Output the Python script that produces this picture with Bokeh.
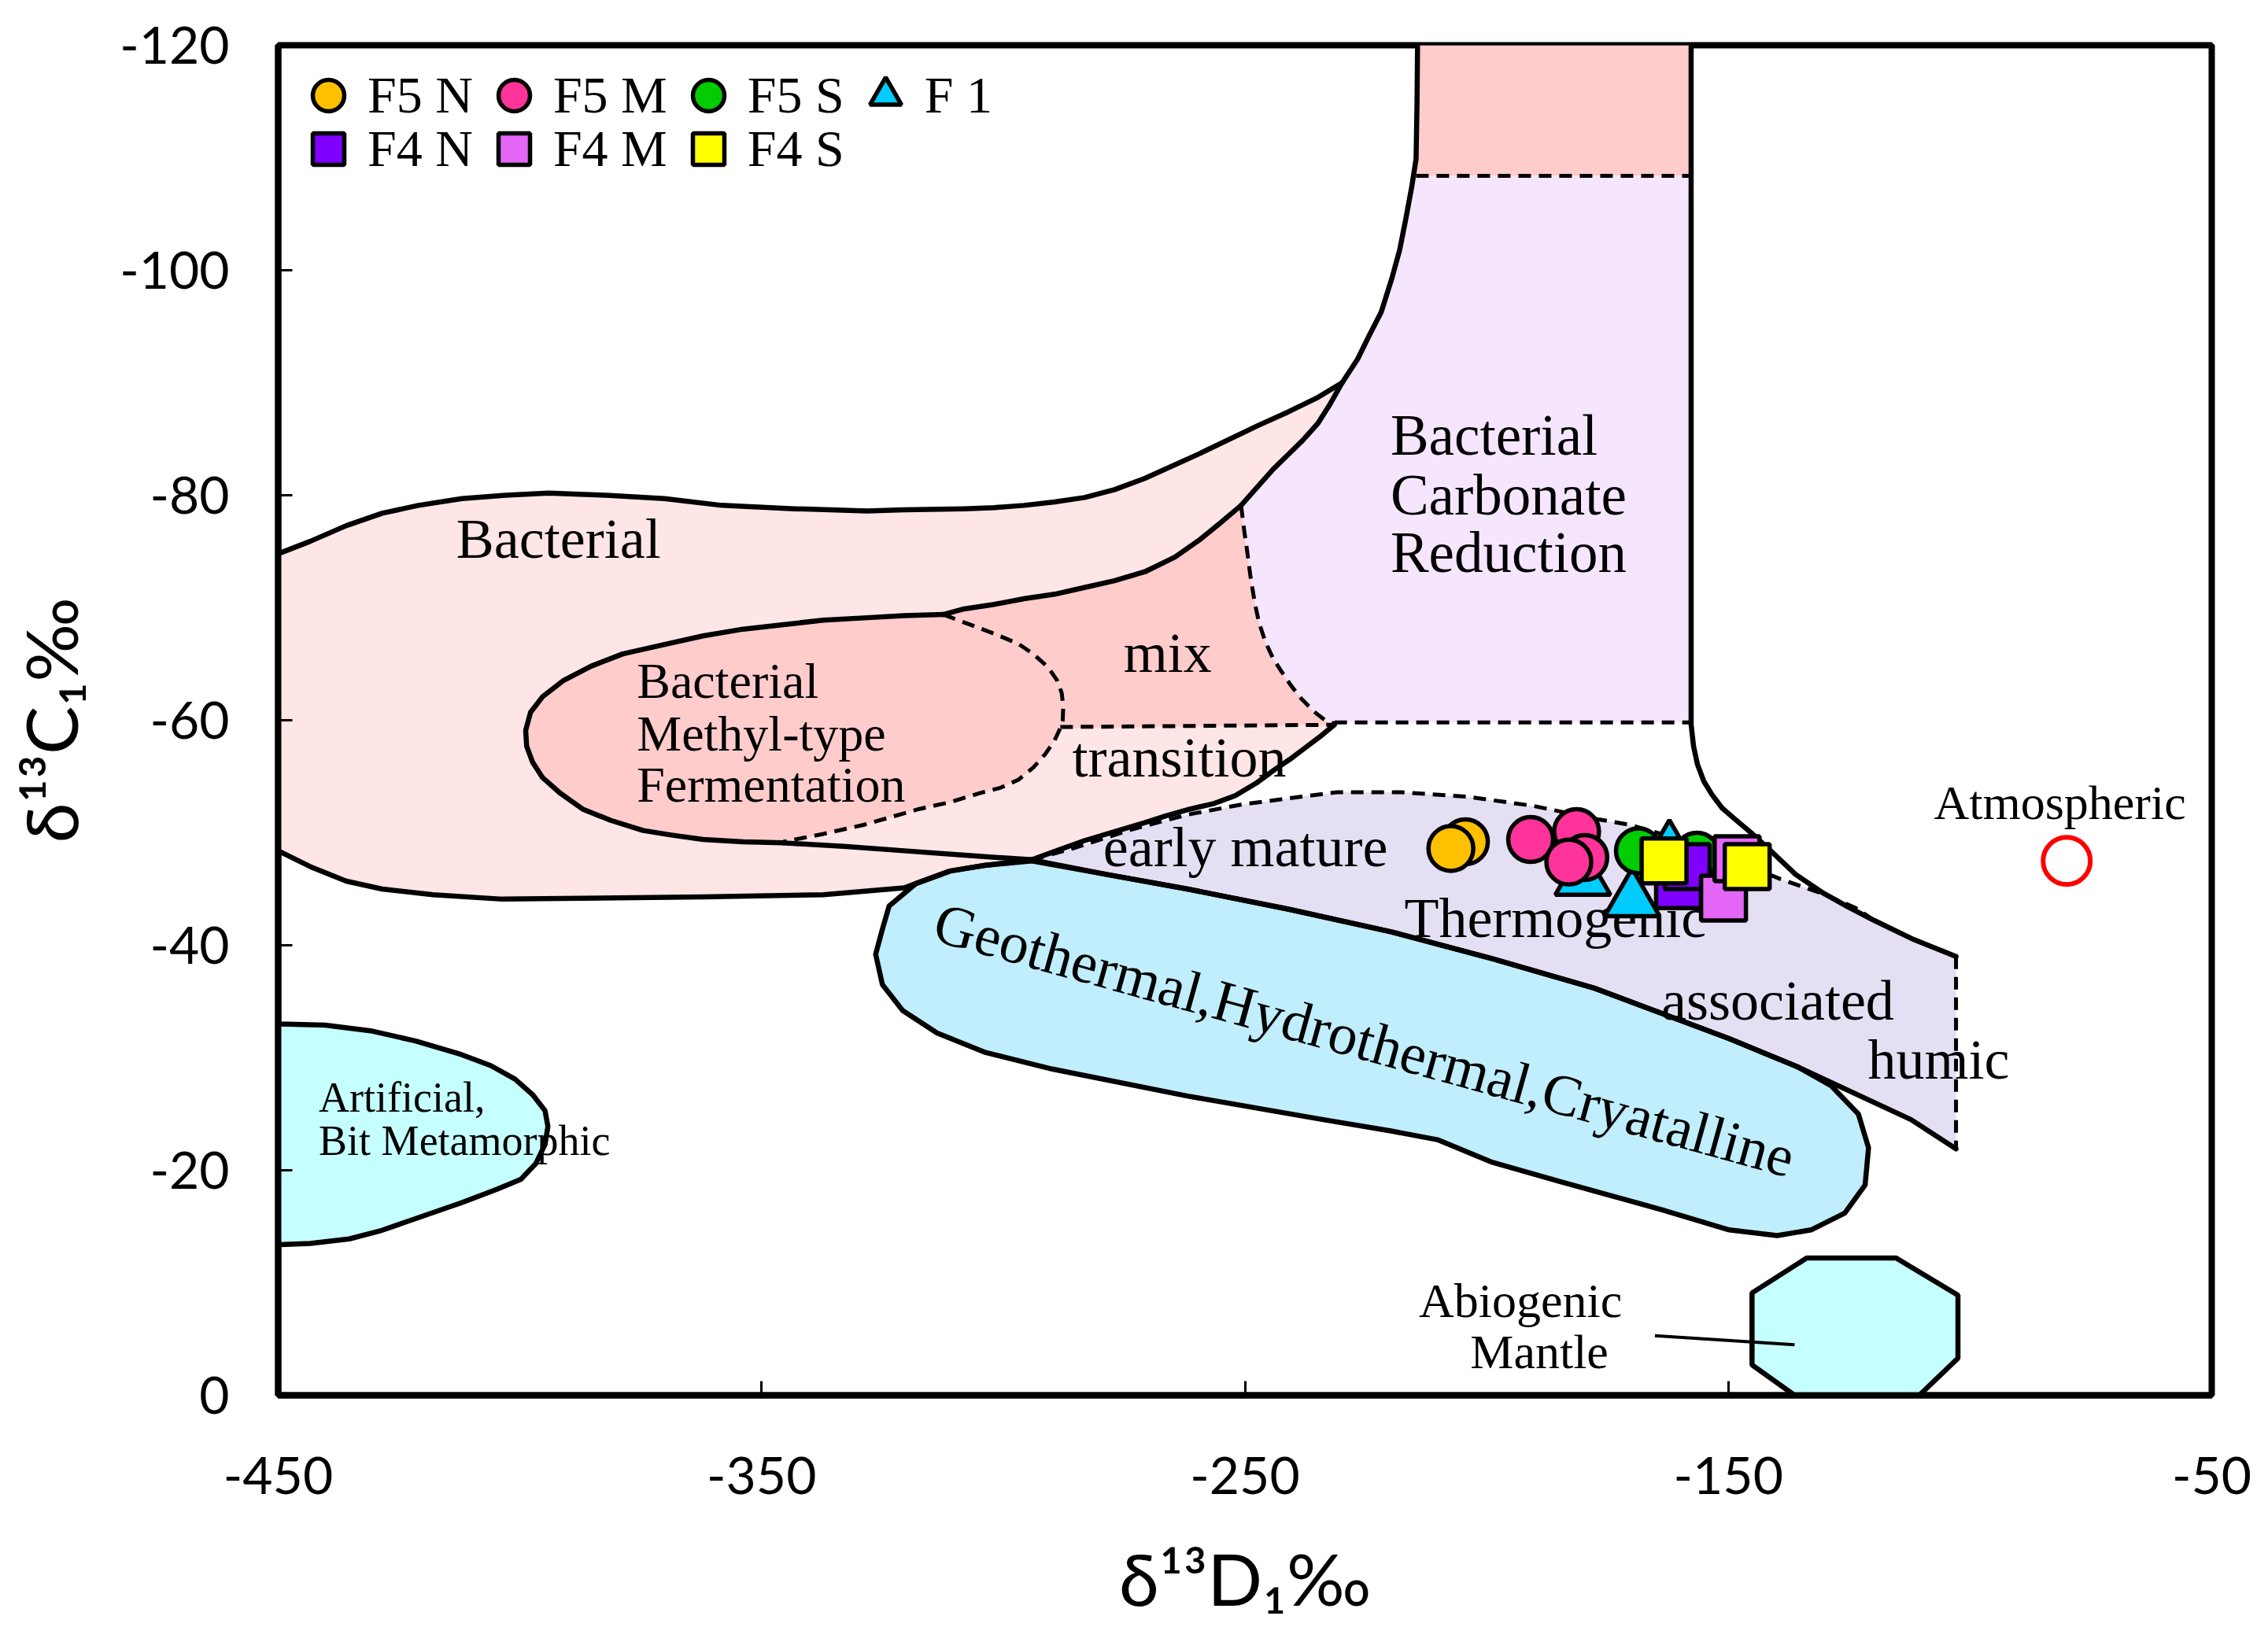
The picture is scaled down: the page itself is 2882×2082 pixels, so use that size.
from bokeh.plotting import figure
from bokeh.models import Range1d, Legend, LegendItem, FixedTicker
from bokeh.core.properties import value
from bokeh.embed import file_html
from bokeh.resources import INLINE

SERIF = "Liberation Serif"
SANS = "Lato"

# ---------------- sample data (dD, d13C) ----------------
f5n_x = [-204.4, -207.4]
f5n_y = [-49.2, -48.6]
f5m_x = [-190.9, -181.4, -179.7, -183.0]
f5m_y = [-49.4, -50.1, -47.8, -47.4]
f5s_x = [-168.6, -156.5]
f5s_y = [-48.4, -48.0]
f1_x = [-180.1, -169.9, -162.2]
f1_y = [-45.9, -44.0, -48.3]
f4n_x = [-160.3, -158.5]
f4n_y = [-45.3, -47.0]
f4m_x = [-151.0, -148.2]
f4m_y = [-44.2, -47.7]
f4s_x = [-163.3, -146.1]
f4s_y = [-47.5, -47.0]
atm_x = [-80.0]
atm_y = [-47.5]

x_ticks = [-450, -350, -250, -150, -50]
y_ticks = [-120, -100, -80, -60, -40, -20, 0]

# ---------------- genetic field boundaries ----------------
band_top = [(-450.0, -74.8), (-443.4, -75.9), (-435.9, -77.3), (-428.5, -78.4), (-421.0, -79.1),
            (-412.0, -79.7), (-403.0, -80.0), (-394.1, -80.2), (-382.1, -80.0), (-370.1, -79.7),
            (-358.2, -79.1), (-343.2, -78.8), (-328.2, -78.6), (-320.6, -78.7), (-308.1, -78.8),
            (-301.9, -78.9), (-295.7, -79.1), (-289.4, -79.4), (-283.2, -79.8), (-277.0, -80.5),
            (-270.7, -81.5), (-259.4, -83.7), (-247.3, -86.2), (-241.1, -87.4), (-234.9, -88.7),
            (-229.9, -90.0)]
bcr_left = [(-214.3, -120.0), (-214.4, -115.0), (-214.6, -109.9), (-215.5, -107.4), (-216.8, -104.4),
            (-218.0, -101.8), (-219.6, -99.3), (-221.8, -96.3), (-224.3, -94.2), (-226.7, -92.1),
            (-229.9, -90.0), (-232.4, -88.1), (-234.9, -86.4), (-238.0, -84.9), (-241.1, -83.6),
            (-244.2, -82.3), (-247.7, -80.6), (-250.8, -79.1)]
mix_top = [(-250.8, -79.1), (-255.2, -77.5), (-259.5, -76.0), (-264.5, -74.5), (-270.7, -73.2),
           (-277.0, -72.4), (-283.2, -71.8), (-289.4, -71.2), (-295.7, -70.8), (-301.9, -70.3),
           (-308.1, -69.9), (-312.4, -69.4)]
methyl_solid = [(-312.4, -69.4), (-320.5, -69.3), (-328.8, -69.1), (-337.2, -68.9), (-345.5, -68.5),
                (-353.8, -68.1), (-362.1, -67.5), (-370.4, -66.7), (-378.7, -65.9), (-385.3, -64.8),
                (-391.1, -63.5), (-395.3, -62.1), (-397.8, -60.7), (-398.8, -59.1), (-398.6, -57.7),
                (-397.4, -56.3), (-395.3, -54.9), (-391.6, -53.5), (-387.0, -52.1), (-381.2, -51.1),
                (-374.5, -50.2), (-368.7, -49.8), (-362.1, -49.4), (-353.8, -49.2), (-345.5, -49.1)]
methyl_bottom = [(-345.5, -49.1), (-333.0, -48.8), (-320.5, -48.4), (-308.0, -48.0), (-294.1, -47.6)]
methyl_dash = [(-312.4, -69.4), (-308.1, -68.7), (-301.9, -67.7), (-296.9, -66.8), (-293.8, -65.9),
               (-290.7, -64.7), (-288.8, -63.5), (-287.9, -62.4), (-287.6, -61.2), (-287.7, -60.0),
               (-288.2, -59.3), (-289.4, -58.2), (-291.3, -57.0), (-293.8, -55.8), (-296.9, -54.7),
               (-300.6, -54.0), (-305.0, -53.5), (-311.2, -52.7), (-317.5, -52.1), (-328.9, -50.7),
               (-337.2, -49.9), (-345.5, -49.2)]
bcr_dash = [(-250.8, -79.1), (-250.2, -77.0), (-249.6, -75.2), (-248.9, -72.9), (-248.0, -70.5),
            (-247.1, -68.7), (-245.8, -67.0), (-244.3, -65.6), (-242.7, -64.5), (-240.5, -63.1),
            (-238.3, -61.9), (-235.8, -60.8), (-233.4, -60.0), (-231.5, -59.7)]
transition_top = [(-288.2, -59.4), (-231.5, -59.6)]
bcr_bottom = [(-231.5, -59.8), (-157.7, -59.8)]
strip_bottom = [(-214.6, -108.4), (-157.7, -108.4)]
transition_low = [(-231.5, -59.6), (-234.6, -58.5), (-237.7, -57.5), (-240.8, -56.5), (-243.9, -55.6),
                  (-247.7, -54.4), (-252.0, -53.3), (-256.4, -52.6), (-261.4, -52.1), (-266.4, -51.5),
                  (-270.7, -50.9), (-277.0, -50.1), (-283.2, -49.3), (-289.0, -48.4), (-294.1, -47.6)]
band_bottom = [(-294.1, -47.6), (-303.9, -47.1), (-311.0, -46.6), (-318.0, -45.5), (-320.5, -45.1),
               (-337.2, -44.5), (-362.1, -44.3), (-403.6, -44.1), (-418.0, -44.5), (-428.5, -45.0),
               (-435.9, -45.7), (-443.4, -47.0), (-450.0, -48.4)]
right_solid = [(-157.7, -120.0), (-157.7, -61.2), (-157.7, -59.6), (-157.2, -57.7), (-156.4, -56.1),
               (-155.1, -54.6), (-153.4, -53.4), (-151.3, -52.2), (-148.6, -51.2), (-145.3, -50.0),
               (-141.5, -48.5), (-136.1, -46.3), (-130.6, -44.7), (-125.2, -43.4), (-119.8, -42.2),
               (-111.6, -40.5), (-102.9, -39.0)]
thermo_top = [(-294.1, -47.6), (-285.7, -48.6), (-273.4, -50.3), (-262.0, -51.6), (-250.8, -52.5),
              (-238.5, -53.2), (-231.0, -53.6), (-217.5, -53.6), (-204.0, -53.2), (-190.5, -52.4),
              (-177.0, -51.2), (-170.3, -50.7), (-160.0, -49.4), (-150.0, -47.8), (-139.3, -45.9),
              (-130.6, -44.6), (-123.6, -43.3), (-119.8, -42.2), (-111.6, -40.5), (-102.9, -39.0)]
thermo_right = [(-102.9, -39.0), (-102.9, -21.9)]
thermo_bottom = [(-102.9, -21.9), (-112.2, -24.5), (-135.7, -29.2), (-149.8, -31.7), (-177.8, -36.2),
                 (-198.8, -38.8), (-219.8, -41.2), (-240.9, -43.2), (-261.9, -45.0), (-278.7, -46.3),
                 (-294.1, -47.6)]
geothermal = [(-324.96, -41.5), (-323.6, -43.5), (-318.0, -45.5), (-311.0, -46.6), (-303.9, -47.1),
              (-294.1, -47.5), (-278.7, -46.3), (-261.9, -45.0), (-240.9, -43.2), (-219.8, -41.2),
              (-198.8, -38.8), (-177.8, -36.2), (-149.8, -31.7), (-135.7, -29.2), (-128.7, -27.5),
              (-123.1, -25.0), (-121.0, -22.0), (-121.7, -18.7), (-125.9, -16.2), (-132.9, -14.7),
              (-139.9, -14.2), (-149.8, -14.7), (-163.8, -16.5), (-184.8, -19.0), (-198.8, -20.7),
              (-210.0, -22.7), (-219.8, -23.5), (-233.8, -24.5), (-261.9, -26.6), (-289.9, -29.0),
              (-303.9, -30.5), (-313.7, -32.2), (-320.8, -34.2), (-325.0, -36.5), (-326.4, -39.2)]
artificial = [(-450.0, -33.05), (-449.6, -33.0), (-440.3, -32.9), (-430.9, -32.4), (-421.6, -31.5),
              (-412.2, -30.3), (-406.0, -29.3), (-401.0, -28.1), (-397.3, -26.7), (-394.8, -25.3),
              (-394.2, -23.9), (-394.8, -22.3), (-396.7, -20.6), (-399.8, -19.2), (-404.8, -18.3),
              (-412.2, -17.1), (-421.6, -15.7), (-429.0, -14.6), (-435.3, -13.9), (-443.4, -13.5),
              (-449.6, -13.4), (-450.0, -13.4)]
abiogenic = [(-145.1, -9.1), (-133.8, -12.2), (-115.3, -12.2), (-102.5, -8.9), (-102.5, -3.3),
             (-110.5, 0.0), (-136.3, 0.0), (-145.1, -2.7)]
abio_pointer = [(-165.2, -5.3), (-136.3, -4.5)]
strip = [(-214.3, -120.0), (-157.7, -120.0), (-157.7, -108.4), (-214.6, -108.4)]

# ---------------- labels ----------------
big_labels = ["Bacterial", "mix", "transition", "early mature", "Thermogenic", "associated", "humic"]
big_x = [-392.0, -266.0, -263.6, -249.9, -185.8, -139.8, -106.5]
big_y = [-76.1, -66.0, -56.7, -48.7, -42.4, -35.1, -29.8]
mid_labels = ["Atmospheric", "Abiogenic", "Mantle"]
mid_x = [-81.4, -193.0, -189.1]
mid_y = [-52.7, -8.4, -3.9]
methyl_labels = ["Bacterial", "Methyl-type", "Fermentation"]
methyl_lx = [-375.8, -375.8, -375.8]
methyl_ly = [-63.5, -58.8, -54.3]
bcr_labels = ["Bacterial", "Carbonate", "Reduction"]
bcr_lx = [-219.9, -219.9, -219.9]
bcr_ly = [-85.3, -80.0, -74.9]
art_labels = ["Artificial,", "Bit Metamorphic"]
art_x = [-441.6, -441.6]
art_y = [-26.5, -22.6]
geo_label = ["Geothermal,Hydrothermal,Cryatalline"]
geo_lx = [-225.3]
geo_ly = [-31.6]


def xs(pts):
    return [q[0] for q in pts]


def ys(pts):
    return [q[1] for q in pts]


BT, BB = 57, 293
FRAME_H = 2066 - BT - BB
p = figure(width=2866, height=2066, x_range=Range1d(-450, -50), y_range=Range1d(0, -120),
           output_backend="svg", toolbar_location=None, title=None,
           min_border_left=353, min_border_right=56, min_border_top=BT, min_border_bottom=BB)
p.background_fill_color = "white"
p.border_fill_color = "white"
p.xgrid.visible = False
p.ygrid.visible = False
p.outline_line_color = "black"
p.outline_line_width = 8

BAND = "#FFE6E6"
PINK = "#FFCCCC"
BCR = "#F5E6FE"
THERMO = "#E5DFF3"
GEO = "#C0EEFC"
CYAN = "#C6FFFF"
LW = 6.5
DLW = 5
DASH = "16 10"

band_poly = band_top + bcr_left[11:] + bcr_dash[1:] + transition_low[1:] + band_bottom[1:]
p.patch(xs(band_poly), ys(band_poly), fill_color=BAND, line_color=None)
pink_poly = mix_top + methyl_solid[1:] + methyl_dash[::-1][1:12] + transition_top[1:] + bcr_dash[::-1][1:]
p.patch(xs(pink_poly), ys(pink_poly), fill_color=PINK, line_color=None)
bcr_poly = strip_bottom + bcr_bottom[::-1] + bcr_dash[::-1][1:] + bcr_left[::-1][1:-2]
p.patch(xs(bcr_poly), ys(bcr_poly), fill_color=BCR, line_color=None)
p.patch(xs(strip), ys(strip), fill_color=PINK, line_color=None)
thermo_poly = thermo_top + thermo_bottom[:-1]
p.patch(xs(thermo_poly), ys(thermo_poly), fill_color=THERMO, line_color=None)
p.patch(xs(geothermal), ys(geothermal), fill_color=GEO, line_color="black", line_width=LW,
        line_join="round")
p.patch(xs(artificial), ys(artificial), fill_color=CYAN, line_color=None)
p.line(xs(artificial), ys(artificial), line_color="black", line_width=LW, line_join="round")
p.patch(xs(abiogenic), ys(abiogenic), fill_color=CYAN, line_color="black", line_width=LW)

for pts in [band_top, bcr_left, mix_top, methyl_solid, methyl_bottom, thermo_bottom, transition_low,
            band_bottom, right_solid]:
    p.line(xs(pts), ys(pts), line_color="black", line_width=LW, line_join="round", line_cap="round")
p.line(xs(abio_pointer), ys(abio_pointer), line_color="black", line_width=4)
for pts in [methyl_dash, bcr_dash, transition_top, bcr_bottom, strip_bottom, thermo_top, thermo_right]:
    p.line(xs(pts), ys(pts), line_color="black", line_width=DLW, line_dash=DASH)

common = dict(text_font=value(SERIF), text_baseline="middle", text_color="black")
p.text(big_x, big_y, text=big_labels, text_font_size="72px", text_align="center", **common)
p.text(mid_x, mid_y, text=mid_labels, text_font_size="62px", text_align="center", **common)
p.text(methyl_lx, methyl_ly, text=methyl_labels, text_font_size="64px", text_align="left", **common)
p.text(bcr_lx, bcr_ly, text=bcr_labels, text_font_size="73px", text_align="left", **common)
p.text(art_x, art_y, text=art_labels, text_font_size="54px", text_align="left", **common)
p.text(geo_lx, geo_ly, text=geo_label, text_font_size="74px", text_align="center",
       angle=-15.5, angle_units="deg", **common)

MS = 57
OLW = 5.5
r_f1 = p.scatter(f1_x, f1_y, marker="triangle", size=70, fill_color="#00CCFF", line_color="black", line_width=OLW)
r_f5n = p.scatter(f5n_x, f5n_y, marker="circle", size=MS, fill_color="#FFC000", line_color="black", line_width=OLW)
r_f5m = p.scatter(f5m_x, f5m_y, marker="circle", size=MS, fill_color="#FF3399", line_color="black", line_width=OLW)
r_f5s = p.scatter(f5s_x, f5s_y, marker="circle", size=MS, fill_color="#00CC00", line_color="black", line_width=OLW)
r_f4n = p.scatter(f4n_x, f4n_y, marker="square", size=MS, fill_color="#7F00FF", line_color="black", line_width=OLW)
r_f4m = p.scatter(f4m_x, f4m_y, marker="square", size=MS, fill_color="#E466F7", line_color="black", line_width=OLW)
r_f4s = p.scatter(f4s_x, f4s_y, marker="square", size=MS, fill_color="#FFFF00", line_color="black", line_width=OLW)
p.scatter(atm_x, atm_y, marker="circle", size=60, fill_color=None, line_color="#FF0000", line_width=6)

leg_style = dict(orientation="horizontal", glyph_width=100, glyph_height=100, spacing=2,
                 label_standoff=0, label_width=0, padding=0, margin=0,
                 border_line_alpha=0, background_fill_alpha=0,
                 label_text_font=SERIF, label_text_font_size="66px", label_text_color="black")
legend1 = Legend(items=[LegendItem(label="F5 N", renderers=[r_f5n]),
                        LegendItem(label="F5 M", renderers=[r_f5m]),
                        LegendItem(label="F5 S", renderers=[r_f5s]),
                        LegendItem(label="F 1", renderers=[r_f1])],
                 location=(14, FRAME_H - 114), **leg_style)
legend2 = Legend(items=[LegendItem(label="F4 N", renderers=[r_f4n]),
                        LegendItem(label="F4 M", renderers=[r_f4m]),
                        LegendItem(label="F4 S", renderers=[r_f4s])],
                 location=(14, FRAME_H - 182), **leg_style)
p.add_layout(legend1)
p.add_layout(legend2)

p.xaxis.ticker = FixedTicker(ticks=x_ticks)
p.yaxis.ticker = FixedTicker(ticks=y_ticks)
p.xaxis.major_label_overrides = {t: str(t) for t in x_ticks}
p.yaxis.major_label_overrides = {t: str(t) for t in y_ticks}
for ax in (p.xaxis, p.yaxis):
    ax.major_tick_in = 18
    ax.major_tick_out = 0
    ax.minor_tick_line_color = None
    ax.major_tick_line_width = 3
    ax.major_tick_line_color = "black"
    ax.axis_line_width = 8
    ax.axis_line_color = "black"
    ax.major_label_text_font = SANS
    ax.major_label_text_font_size = "66px"
    ax.major_label_text_color = "black"
    ax.axis_label_text_font = SANS
    ax.axis_label_text_font_size = "92px"
    ax.axis_label_text_font_style = "normal"
    ax.axis_label_text_color = "black"
p.xaxis.axis_label = "δ¹³D₁‰"
p.yaxis.axis_label = "δ¹³C₁‰"
p.xaxis.major_label_standoff = 78
p.xaxis.axis_label_standoff = 48
p.yaxis.major_label_standoff = 62
p.yaxis.axis_label_standoff = 30

open("out.html", "w").write(file_html(p, INLINE))
